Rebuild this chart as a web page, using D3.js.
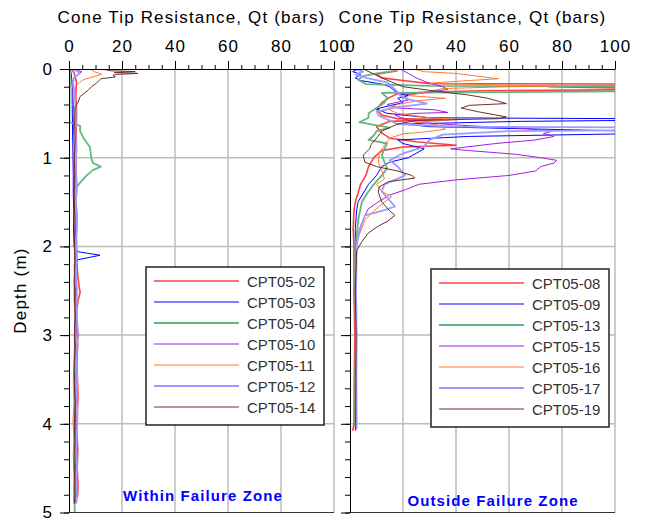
<!DOCTYPE html>
<html>
<head>
<meta charset="utf-8">
<script src="https://cdn.jsdelivr.net/npm/d3@7"></script>
<style>
  body { margin: 0; background: #fff; }
  svg { display: block; font-family: "Liberation Sans", Arial, sans-serif; }
</style>
</head>
<body>
<svg id="chart" width="645" height="521"></svg>
<script>
// depth (m), Qt (bars) pairs
var qtTicks = [0, 20, 40, 60, 80, 100];
var depthTicks = [0, 1, 2, 3, 4, 5];

// ---- within failure zone
var cpt0502 = [[0,1],[0.05,2],[0.15,2.8],[0.3,2.6],[0.5,2.9],[0.7,2.7],[0.9,2.8],[1.1,2.6],[1.3,2.8],[1.5,2.7],[1.7,3],[1.9,2.8],[2.1,2.9],[2.3,3.2],[2.45,3.8],[2.52,4.2],[2.6,3.5],[2.7,3],[2.9,2.8],[3.1,3.3],[3.3,3],[3.5,3.2],[3.7,3.4],[3.9,3.1],[4.1,3],[4.3,3.3],[4.5,3.1],[4.7,3.4],[4.83,3.2]];
var cpt0503 = [[0,0.5],[0.05,0.8],[0.1,1],[0.2,1.2],[0.4,1.2],[0.6,1.3],[0.8,1.4],[1.0,1.5],[1.2,1.6],[1.4,1.6],[1.6,1.8],[1.8,1.7],[2.0,1.9],[2.06,3.4],[2.1,11.7],[2.15,3.4],[2.2,2],[2.4,2.1],[2.6,2.0],[2.8,2.2],[3.0,2.1],[3.2,2.3],[3.4,2.0],[3.6,2.2],[3.8,2.4],[4.0,2.3],[4.2,2.2],[4.4,2.4],[4.6,2.3],[4.8,2.5],[4.88,2.4]];
var cpt0504 = [[0,0.3],[0.2,0.3],[0.4,0.2],[0.6,0.2],[0.62,2],[0.64,4.2],[0.7,4.2],[0.78,5.5],[0.88,7.9],[1.0,8.4],[1.06,9],[1.1,12],[1.14,9],[1.2,6.7],[1.27,4.5],[1.33,2.9],[1.5,2.6],[1.7,2.8],[1.9,2.5],[2.1,2.7],[2.3,2.4],[2.5,2.6],[2.7,2.3],[2.9,2.5],[3.1,2.4],[3.3,2.2],[3.5,2.5],[3.7,2.3],[3.9,2.1],[4.1,2.0],[4.3,2.2],[4.5,2.0],[4.7,2.3],[4.9,2.1],[5.0,2.2]];
var cpt0510 = [[0,1],[0.03,4.8],[0.06,3.5],[0.1,2],[0.15,1.2],[0.3,1.5],[0.5,1.8],[0.7,1.7],[0.9,2],[1.1,1.9],[1.3,2.2],[1.5,2],[1.7,2.3],[1.9,2.1],[2.1,2.4],[2.3,2.2],[2.5,2.5],[2.7,2.3],[2.9,2.6],[3.1,2.4],[3.3,2.8],[3.5,3],[3.7,2.6],[3.9,2.4],[4.1,2.7],[4.3,2.5],[4.5,2.8],[4.7,2.6],[4.9,2.7]];
var cpt0511 = [[0,8],[0.03,9.5],[0.06,12.3],[0.09,9],[0.12,5.5],[0.15,4],[0.2,2.3],[0.35,2.6],[0.55,2.2],[0.75,2.5],[0.95,2.3],[1.15,2.6],[1.35,2.4],[1.55,2.2],[1.75,2.5],[1.95,2.3],[2.15,2.1],[2.35,2.4],[2.55,2.0],[2.75,2.2],[2.95,2.5],[3.15,2.0],[3.35,1.8],[3.55,1.6],[3.75,1.9],[3.95,1.5],[4.15,1.8],[4.35,1.6],[4.55,1.9],[4.75,1.7],[4.9,1.8]];
var cpt0512 = [[0,0.8],[0.02,3],[0.05,4],[0.09,2],[0.15,1.5],[0.3,2.2],[0.5,2.6],[0.7,2.4],[0.9,2.8],[1.1,2.5],[1.3,2.9],[1.5,2.6],[1.7,3],[1.9,2.7],[2.1,2.9],[2.3,2.6],[2.5,3],[2.7,2.8],[2.9,3.2],[3.0,3.6],[3.1,3],[3.3,2.8],[3.5,3.1],[3.7,2.9],[3.9,3.2],[4.1,3],[4.3,2.7],[4.5,3],[4.7,2.8],[4.88,2.9]];
var cpt0514 = [[0,12],[0.02,16],[0.03,25],[0.04,17],[0.05,26],[0.06,18],[0.07,16.6],[0.09,17.5],[0.11,12],[0.16,10.4],[0.2,8.5],[0.24,7.2],[0.28,5.5],[0.31,4.2],[0.37,3.5],[0.43,2.3],[0.6,2.1],[0.8,2.3],[1.0,2.0],[1.2,2.2],[1.4,1.9],[1.6,2.1],[1.8,2.3],[2.0,2.0],[2.2,2.2],[2.4,1.9],[2.6,2.1],[2.8,2.4],[3.0,2.0],[3.2,2.2],[3.4,1.9],[3.6,2.1],[3.8,2.3],[4.0,2.0],[4.2,2.2],[4.4,1.9],[4.6,2.1],[4.8,2.2],[4.9,2.0]];

// ---- outside failure zone
var cpt0508 = [[0.02,18],[0.06,10],[0.1,12],[0.13,20],[0.165,30],[0.17,105],[0.19,100],[0.2,75],[0.215,105],[0.235,105],[0.245,50],[0.26,30],[0.28,18],[0.32,15],[0.38,12],[0.45,10],[0.52,12],[0.56,18],[0.57,35],[0.59,15],[0.65,10],[0.72,12],[0.78,15],[0.82,25],[0.86,40],[0.88,20],[0.92,12],[1.0,9],[1.1,7],[1.2,6],[1.3,4],[1.4,3],[1.5,2],[1.6,1.5],[1.8,1.2],[2.0,1.5],[2.5,1.5],[3.0,1.8],[3.5,1.6],[4.0,1.5],[4.08,1]];
var cpt0509 = [[0,3],[0.03,1],[0.06,4],[0.1,2],[0.13,4],[0.17,12],[0.2,15],[0.25,17],[0.28,19],[0.3,22],[0.33,18],[0.38,20],[0.42,14],[0.45,10],[0.5,14],[0.55,30],[0.56,105],[0.58,105],[0.59,65],[0.62,20],[0.65,30],[0.7,105],[0.73,105],[0.76,45],[0.8,18],[0.84,20],[0.9,28],[0.95,25],[1.0,22],[1.05,15],[1.1,12],[1.2,10],[1.3,7],[1.4,5],[1.5,3],[1.6,2.5],[1.8,2],[2.0,2],[2.5,2.2],[3,2.5],[3.5,2.3],[4.0,2.4],[4.05,2.5]];
var cpt0513 = [[0.02,17],[0.05,10],[0.08,5],[0.12,3],[0.17,6],[0.19,30],[0.195,105],[0.22,105],[0.25,105],[0.26,60],[0.27,12],[0.32,14],[0.38,13],[0.44,10],[0.5,7],[0.55,7],[0.6,3.5],[0.63,9],[0.66,15],[0.7,10],[0.75,9],[0.8,7],[0.84,14],[0.9,13],[0.97,12],[1.05,13],[1.12,14],[1.2,12],[1.3,9],[1.4,6.5],[1.5,4.5],[1.7,3.1],[1.9,2.5],[2.0,2],[2.5,2],[3,2.2],[3.5,2],[4,2],[4.03,2]];
var cpt0515 = [[0,19],[0.05,22],[0.1,25],[0.15,29],[0.2,35],[0.23,37],[0.26,30],[0.29,21],[0.32,20],[0.35,22],[0.4,14],[0.44,18],[0.46,32],[0.49,37],[0.5,25],[0.52,17],[0.56,20],[0.6,25],[0.64,45],[0.67,66],[0.7,76],[0.73,73],[0.76,77],[0.8,70],[0.84,55],[0.9,38],[0.92,45],[0.96,62],[1.0,72],[1.03,78],[1.06,77],[1.1,72],[1.15,70],[1.2,60],[1.25,40],[1.3,26],[1.36,21],[1.42,15],[1.5,10.6],[1.58,6.8],[1.65,5.7],[1.8,3.6],[2.0,2.3],[2.5,2],[3,2.5],[3.5,2.2],[4.0,2.3],[4.06,2.5]];
var cpt0516 = [[0,24],[0.03,28],[0.05,40],[0.08,48],[0.11,56],[0.13,45],[0.16,30],[0.18,55],[0.19,78],[0.2,60],[0.22,35],[0.25,30],[0.3,22],[0.33,36],[0.36,25],[0.4,18],[0.45,14],[0.5,18],[0.55,30],[0.57,41],[0.6,25],[0.63,33],[0.68,36],[0.71,28],[0.73,20],[0.78,15],[0.86,13],[0.95,11],[1.05,10.7],[1.15,12],[1.24,13],[1.3,10],[1.38,12],[1.44,15.7],[1.5,13],[1.6,9],[1.7,5.7],[1.9,3.1],[2.0,2.5],[2.5,2.2],[3,2.5],[3.5,2.4],[4.0,2.2],[4.05,2]];
var cpt0517 = [[0,2],[0.03,5],[0.06,2],[0.1,6],[0.15,14],[0.2,16],[0.26,18],[0.3,19],[0.34,22],[0.39,29],[0.43,18],[0.48,10],[0.53,11],[0.58,15],[0.62,18],[0.65,40],[0.66,105],[0.69,105],[0.7,60],[0.74,35],[0.8,30],[0.88,27.7],[0.95,20],[1.03,15],[1.1,18],[1.2,20.8],[1.3,13],[1.38,12],[1.45,14],[1.55,17],[1.6,12],[1.65,5.7],[1.75,4.4],[1.9,3],[2.0,2.5],[2.5,2.3],[3,2.5],[3.5,2.4],[4,2.5],[4.05,2.5]];
var cpt0519 = [[0,5],[0.1,12],[0.2,20],[0.26,35],[0.29,44],[0.33,52],[0.39,59],[0.41,45],[0.44,42],[0.48,48],[0.54,59],[0.56,56],[0.58,25],[0.62,18],[0.7,12],[0.78,10],[0.85,8],[0.9,7.4],[0.97,5],[1.05,5.6],[1.1,10],[1.15,18],[1.2,23.3],[1.23,24.5],[1.27,14.5],[1.33,11],[1.39,10.7],[1.5,12],[1.6,15],[1.65,17],[1.72,14],[1.77,10.7],[1.85,6.9],[1.95,4.4],[2.05,2.5],[2.5,2],[3,2.3],[3.5,2.2],[4,2.1],[4.08,2]];

var insideNames = ["CPT05-02","CPT05-03","CPT05-04","CPT05-10","CPT05-11","CPT05-12","CPT05-14"];
var insideData = [cpt0502, cpt0503, cpt0504, cpt0510, cpt0511, cpt0512, cpt0514];
var outsideNames = ["CPT05-08","CPT05-09","CPT05-13","CPT05-15","CPT05-16","CPT05-17","CPT05-19"];
var outsideData = [cpt0508, cpt0509, cpt0513, cpt0515, cpt0516, cpt0517, cpt0519];

// line styles, same order in both panels
var colors = ["#ff4040", "#0000ff", "#60b880", "#a020e0", "#ff7a30", "#9c9cff", "#6a3030"];
var widths = [1.6, 1, 1.8, 1, 1, 1.8, 1];

var svg = d3.select("#chart");
var top0 = 69, bottom0 = 512.5;
var y = d3.scaleLinear().domain([0, 5]).range([top0, bottom0]);

function panel(x0, x1, names, data, legendX, legendY, note, noteX, noteY, id, showDepth) {
	var x = d3.scaleLinear().domain([0, 100]).range([x0, x1]);
	var g = svg.append("g");

	// grid
	g.selectAll(".vg").data(qtTicks.slice(1)).enter().append("line")
		.attr("x1", function(d) { return x(d); }).attr("x2", function(d) { return x(d); })
		.attr("y1", top0).attr("y2", bottom0)
		.attr("stroke", "#bdbdbd").attr("stroke-width", 1.5);
	g.selectAll(".hg").data([1, 2, 3, 4]).enter().append("line")
		.attr("x1", x0).attr("x2", x1)
		.attr("y1", function(d) { return y(d); }).attr("y2", function(d) { return y(d); })
		.attr("stroke", "#bdbdbd").attr("stroke-width", 1.5);

	// data
	g.append("clipPath").attr("id", "clip-" + id)
		.append("rect").attr("x", x0).attr("y", top0).attr("width", x1 - x0).attr("height", bottom0 - top0);
	var line = d3.line().x(function(d) { return x(d[1]); }).y(function(d) { return y(d[0]); });
	g.append("g").attr("clip-path", "url(#clip-" + id + ")")
		.selectAll("path").data(data).enter().append("path")
		.attr("d", line)
		.attr("fill", "none")
		.attr("stroke", function(d, i) { return colors[i]; })
		.attr("stroke-width", function(d, i) { return widths[i]; })
		.attr("stroke-linejoin", "round");

	// bottom frame line
	g.append("line").attr("x1", x0).attr("x2", x1).attr("y1", bottom0).attr("y2", bottom0)
		.attr("stroke", "#333").attr("stroke-width", 1.2);

	// top axis
	var minor = d3.axisTop(x).tickValues(d3.range(0, 101, 5)).tickSize(4).tickFormat("");
	g.append("g").attr("transform", "translate(0," + top0 + ")").call(minor)
		.call(function(s) { s.select(".domain").remove(); });
	var major = d3.axisTop(x).tickValues(qtTicks).tickSize(8).tickSizeOuter(0).tickPadding(9)
		.tickFormat(d3.format("d"));
	var ax = g.append("g").attr("transform", "translate(0," + top0 + ")").call(major);
	ax.select(".domain").attr("stroke", "#000");
	ax.selectAll("text").attr("font-size", 17).attr("fill", "#000")
		.attr("font-family", "Liberation Sans, Arial, sans-serif").style("letter-spacing", "1px");

	// left axis
	var yminor = d3.axisLeft(y).tickValues(d3.range(0, 5.01, 0.2)).tickSize(5).tickFormat("");
	g.append("g").attr("transform", "translate(" + x0 + ",0)").call(yminor)
		.call(function(s) { s.select(".domain").remove(); });
	var ymajor = d3.axisLeft(y).tickValues(depthTicks).tickSize(9).tickSizeOuter(0).tickPadding(8)
		.tickFormat(showDepth ? d3.format("d") : "");
	var ay = g.append("g").attr("transform", "translate(" + x0 + ",0)").call(ymajor);
	ay.select(".domain").attr("stroke", "#000");
	ay.selectAll("text").attr("font-size", 17).attr("fill", "#000")
		.attr("font-family", "Liberation Sans, Arial, sans-serif");

	// title
	g.append("text").attr("x", (x0 + x1) / 2 - 10).attr("y", 23)
		.attr("text-anchor", "middle").attr("font-size", 17)
		.style("letter-spacing", "1.15px")
		.text("Cone Tip Resistance, Qt (bars)");

	// legend
	var lw = 178, lh = 158;
	var lg = g.append("g").attr("transform", "translate(" + legendX + "," + legendY + ")");
	lg.append("rect").attr("width", lw).attr("height", lh)
		.attr("fill", "#fff").attr("stroke", "#222").attr("stroke-width", 1.5);
	var item = lg.selectAll(".item").data(names).enter().append("g")
		.attr("transform", function(d, i) { return "translate(0," + (14 + i * 21) + ")"; });
	item.append("line").attr("x1", 8).attr("x2", 93)
		.attr("stroke", function(d, i) { return colors[i]; })
		.attr("stroke-width", function(d, i) { return widths[i]; });
	item.append("text").attr("x", 101).attr("y", 5.5)
		.attr("font-size", 15).attr("fill", "#333")
		.text(function(d) { return d; });

	// zone note
	g.append("text").attr("x", noteX).attr("y", noteY)
		.attr("text-anchor", "middle").attr("font-size", 15).attr("font-weight", "bold")
		.attr("fill", "#0000ff").style("letter-spacing", "1.1px")
		.text(note);
}

panel(69, 334, insideNames, insideData, 146, 267, "Within Failure Zone", 203, 501, "a", true);
panel(350, 615, outsideNames, outsideData, 431, 269, "Outside Failure Zone", 493, 506, "b", false);

svg.append("text")
	.attr("transform", "translate(26,290.5) rotate(-90)")
	.attr("text-anchor", "middle").attr("font-size", 17)
	.style("letter-spacing", "1.2px")
	.text("Depth (m)");
</script>
</body>
</html>
